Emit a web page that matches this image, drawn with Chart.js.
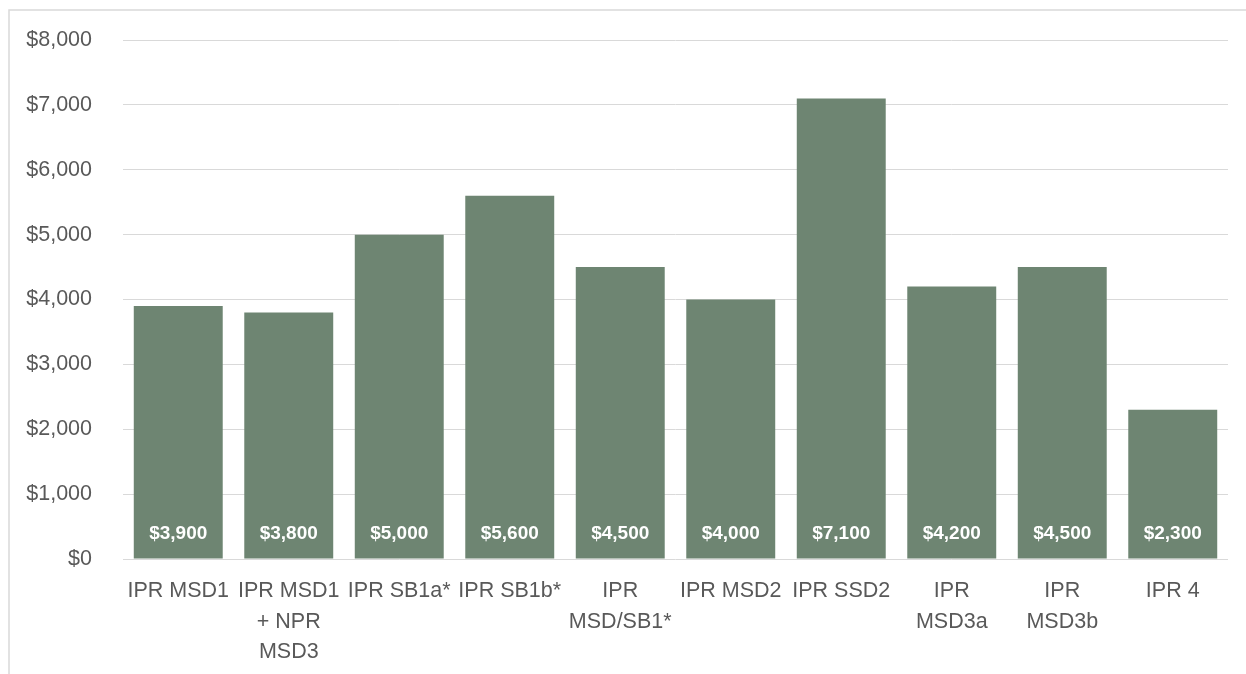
<!DOCTYPE html>
<html>
<head>
<meta charset="utf-8">
<script src="https://cdn.jsdelivr.net/npm/chart.js@4.4.1/dist/chart.umd.min.js"></script>
<style>
  html, body { margin: 0; padding: 0; background: #fff; }
  #wrap { width: 1246px; height: 674px; position: relative; }
</style>
</head>
<body>
<div id="wrap"><canvas id="costChart"></canvas></div>
<script>
const categories = [
    'IPR MSD1',
    ['IPR MSD1', '+ NPR', 'MSD3'],
    'IPR SB1a*',
    'IPR SB1b*',
    ['IPR', 'MSD/SB1*'],
    'IPR MSD2',
    'IPR SSD2',
    ['IPR', 'MSD3a'],
    ['IPR', 'MSD3b'],
    'IPR 4'
];
const costs = [3900, 3800, 5000, 5600, 4500, 4000, 7100, 4200, 4500, 2300];
const yTicks = [0, 1000, 2000, 3000, 4000, 5000, 6000, 7000, 8000];

const fontFamily = '"Liberation Sans Narrow", "Arial Narrow", "Liberation Sans", Arial, sans-serif';
const money = v => '$' + v.toLocaleString('en-US');

// white value labels sitting near the base of each bar
const baseLabels = {
    id: 'baseLabels',
    afterDatasetsDraw(chart) {
        const ctx = chart.ctx;
        const yScale = chart.scales.y;
        const base = yScale.getPixelForValue(0);
        ctx.save();
        ctx.fillStyle = '#ffffff';
        ctx.font = 'bold 19px ' + fontFamily;
        ctx.textAlign = 'center';
        ctx.textBaseline = 'middle';
        chart.getDatasetMeta(0).data.forEach((bar, i) => {
            ctx.fillText(money(costs[i]), bar.x, base - 25);
        });
        ctx.restore();
    }
};

// light frame lines along the top and left of the picture
const frame = {
    id: 'frame',
    beforeDraw(chart) {
        const ctx = chart.ctx;
        ctx.save();
        ctx.strokeStyle = '#d9d9d9';
        ctx.lineWidth = 1.5;
        ctx.beginPath();
        ctx.moveTo(9, chart.height);
        ctx.lineTo(9, 10);
        ctx.lineTo(chart.width, 10);
        ctx.stroke();
        ctx.restore();
    }
};

new Chart(document.getElementById('costChart').getContext('2d'), {
    type: 'bar',
    data: {
        labels: categories,
        datasets: [{
            data: costs,
            backgroundColor: '#6E8572',
            borderWidth: 0,
            categoryPercentage: 1,
            barPercentage: 0.805
        }]
    },
    options: {
        responsive: true,
        maintainAspectRatio: false,
        animation: false,
        layout: {
            padding: { top: 40, right: 18, bottom: 0, left: 0 }
        },
        plugins: {
            legend: { display: false },
            tooltip: { enabled: false }
        },
        scales: {
            x: {
                grid: { display: false, drawTicks: false },
                border: { display: false },
                ticks: {
                    color: '#595959',
                    font: { family: fontFamily, size: 21.5, lineHeight: 1.42 },
                    padding: 17,
                    maxRotation: 0,
                    autoSkip: false
                },
                afterFit(scale) {
                    scale.height = 115;
                }
            },
            y: {
                min: 0,
                max: 8000,
                afterBuildTicks(scale) {
                    scale.ticks = yTicks.map(v => ({ value: v }));
                },
                // invisible tick marks keep the labels away from the plot
                grid: { color: '#d9d9d9', lineWidth: 1, drawTicks: true, tickLength: 31, tickColor: 'rgba(0,0,0,0)' },
                border: { display: false },
                ticks: {
                    color: '#595959',
                    font: { family: fontFamily, size: 21.5 },
                    padding: 0,
                    callback: v => money(v)
                },
                afterFit(scale) {
                    scale.width = 123;
                }
            }
        }
    },
    plugins: [frame, baseLabels]
});
</script>
</body>
</html>
